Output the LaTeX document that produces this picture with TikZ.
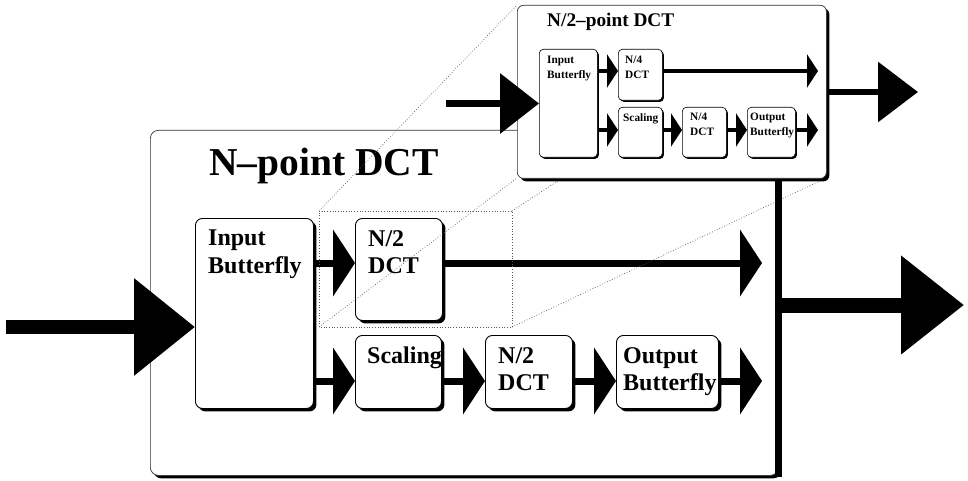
\documentclass[tikz,border=0pt]{standalone}
\usepackage{fontspec}
\setmainfont{Liberation Serif}
\usetikzlibrary{arrows.meta,shadows}
\begin{document}
\begin{tikzpicture}[x=1pt,y=-1pt,
  bigbox/.style={draw=black!80, line width=0.7pt, fill=white, rounded corners=8pt, anchor=north west, inner sep=0pt,
    drop shadow={shadow xshift=3pt, shadow yshift=-3pt, opacity=1, fill=black}},
  blk/.style={draw=black, line width=0.9pt, fill=white, rounded corners=7pt, anchor=north west, inner sep=0pt,
    drop shadow={shadow xshift=3pt, shadow yshift=-3pt, opacity=1, fill=black}},
  sblk/.style={draw=black, line width=0.6pt, fill=white, rounded corners=4pt, anchor=north west, inner sep=0pt,
    drop shadow={shadow xshift=1.6pt, shadow yshift=-1.6pt, opacity=1, fill=black}},
  lbl/.style={anchor=north west, inner sep=0pt, align=left, font=\bfseries\fontsize{24}{27.5}\selectfont},
  slbl/.style={anchor=north west, inner sep=0pt, align=left, font=\bfseries\fontsize{11.3}{15}\selectfont},
  arr/.style={line width=7pt, -{Triangle[length=22pt,width=66pt]}},
  sarr/.style={line width=4.5pt, -{Triangle[length=11pt,width=33pt]}},
  bigarr/.style={line width=14pt, -{Triangle[length=61pt,width=94pt]}},
  midarr/.style={line width=7pt, -{Triangle[length=39pt,width=59pt]}},
  dots/.style={black!65, line width=0.7pt, dotted},
]
\useasboundingbox (0,0) rectangle (968,481);

% main N-point DCT box
\node[bigbox, minimum width=628pt, minimum height=345pt] (main) at (150,130) {};
\node[anchor=north west, inner sep=0pt, font=\bfseries\fontsize{39.5}{40}\selectfont] (mtitle) at (209,148) {N–point DCT};

% inner blocks
\node[blk, minimum width=118pt, minimum height=190pt] (ib) at (195,218) {};
\node[blk, minimum width=87pt, minimum height=102pt] (n2a) at (355,218) {};
\node[blk, minimum width=86pt, minimum height=73pt] (sc) at (355,335) {};
\node[blk, minimum width=87pt, minimum height=73pt] (n2b) at (485,335) {};
\node[blk, minimum width=102pt, minimum height=73pt] (ob) at (616,335) {};

\node[lbl] (ibt) at (208,230) {Input\\Butterfly};
\node[lbl] (n2at) at (368,230) {N/2\\DCT};
\node[lbl] (sct) at (367,347) {Scaling};
\node[lbl] (n2bt) at (498,347) {N/2\\DCT};
\node[lbl] (obt) at (623,347) {Output\\Butterfly};

% connectors inside main box
\coordinate (o1) at (762,263);
\coordinate (o2) at (762,381);
\draw[arr] (ib.east |- 0,263) -- (n2a.west |- 0,263);
\draw[arr] (n2a.east |- 0,263) -- (o1);
\draw[arr] (ib.east |- 0,381) -- (sc.west |- 0,381);
\draw[arr] (sc.east |- 0,381) -- (n2b.west |- 0,381);
\draw[arr] (n2b.east |- 0,381) -- (ob.west |- 0,381);
\draw[arr] (ob.east |- 0,381) -- (o2);

% input arrow
\coordinate (in) at (6,327);
\draw[bigarr] (in) -- (ib.west |- 0,327);

% zoom guide
\coordinate (zA) at (319,211);
\coordinate (zB) at (512,211);
\coordinate (zC) at (512,327);
\coordinate (zD) at (319,327);
\draw[dots] (zA) -- (zB) -- (zC) -- (zD) -- cycle;

% small N/2-point DCT box (drawn later, coordinates for guide lines)
\coordinate (sA) at (517,5);
\coordinate (sB) at (826,5);
\coordinate (sC) at (826,178);
\coordinate (sD) at (517,178);
\draw[dots] (zA) -- (sA);
\draw[dots] (zB) -- (sB);
\draw[dots] (zC) -- (sC);
\draw[dots] (zD) -- (sD);

% output bus and big output arrow
\coordinate (busb) at (778,477);
\coordinate (out) at (964,305);
\draw[line width=7pt] (778,180) coordinate (bust) -- (busb);
\draw[line width=15pt, -{Triangle[length=63pt,width=95pt]}] (bust |- 0,305) -- (out);

% small box
\node[bigbox, rounded corners=6pt, minimum width=309pt, minimum height=173pt] (sbox) at (517,5) {};
\node[anchor=north west, inner sep=0pt, font=\bfseries\fontsize{19.3}{20}\selectfont] (stitle) at (547,13) {N/2–point DCT};

\node[sblk, minimum width=58pt, minimum height=108pt] (sib) at (539,49) {};
\node[sblk, minimum width=44pt, minimum height=51pt] (sn4a) at (618,49) {};
\node[sblk, minimum width=44pt, minimum height=50pt] (ssc) at (618,107) {};
\node[sblk, minimum width=44pt, minimum height=50pt] (sn4b) at (682,107) {};
\node[sblk, minimum width=48pt, minimum height=50pt] (sob) at (747,107) {};

\node[slbl] (sibt) at (547,56) {Input\\Butterfly};
\node[slbl] (sn4at) at (625,56) {N/4\\DCT};
\node[slbl] (ssct) at (623,113) {Scaling};
\node[slbl] (sn4bt) at (690,113) {N/4\\DCT};
\node[slbl] (sobt) at (750,113) {Output\\Butterfly};

\coordinate (so1) at (818,71);
\coordinate (so2) at (818,130);
\draw[sarr] (sib.east |- 0,71) -- (sn4a.west |- 0,71);
\draw[sarr] (sn4a.east |- 0,71) -- (so1);
\draw[sarr] (sib.east |- 0,130) -- (ssc.west |- 0,130);
\draw[sarr] (ssc.east |- 0,130) -- (sn4b.west |- 0,130);
\draw[sarr] (sn4b.east |- 0,130) -- (sob.west |- 0,130);
\draw[sarr] (sob.east |- 0,130) -- (so2);

% input / output of small box
\coordinate (sin) at (446,103.5);
\coordinate (sout) at (918,92);
\draw[midarr] (sin) -- (sib.west |- 0,103.5);
\draw[line width=6.5pt, -{Triangle[length=40pt,width=59pt]}] (sbox.east |- 0,92) -- (sout);
\end{tikzpicture}
\end{document}
